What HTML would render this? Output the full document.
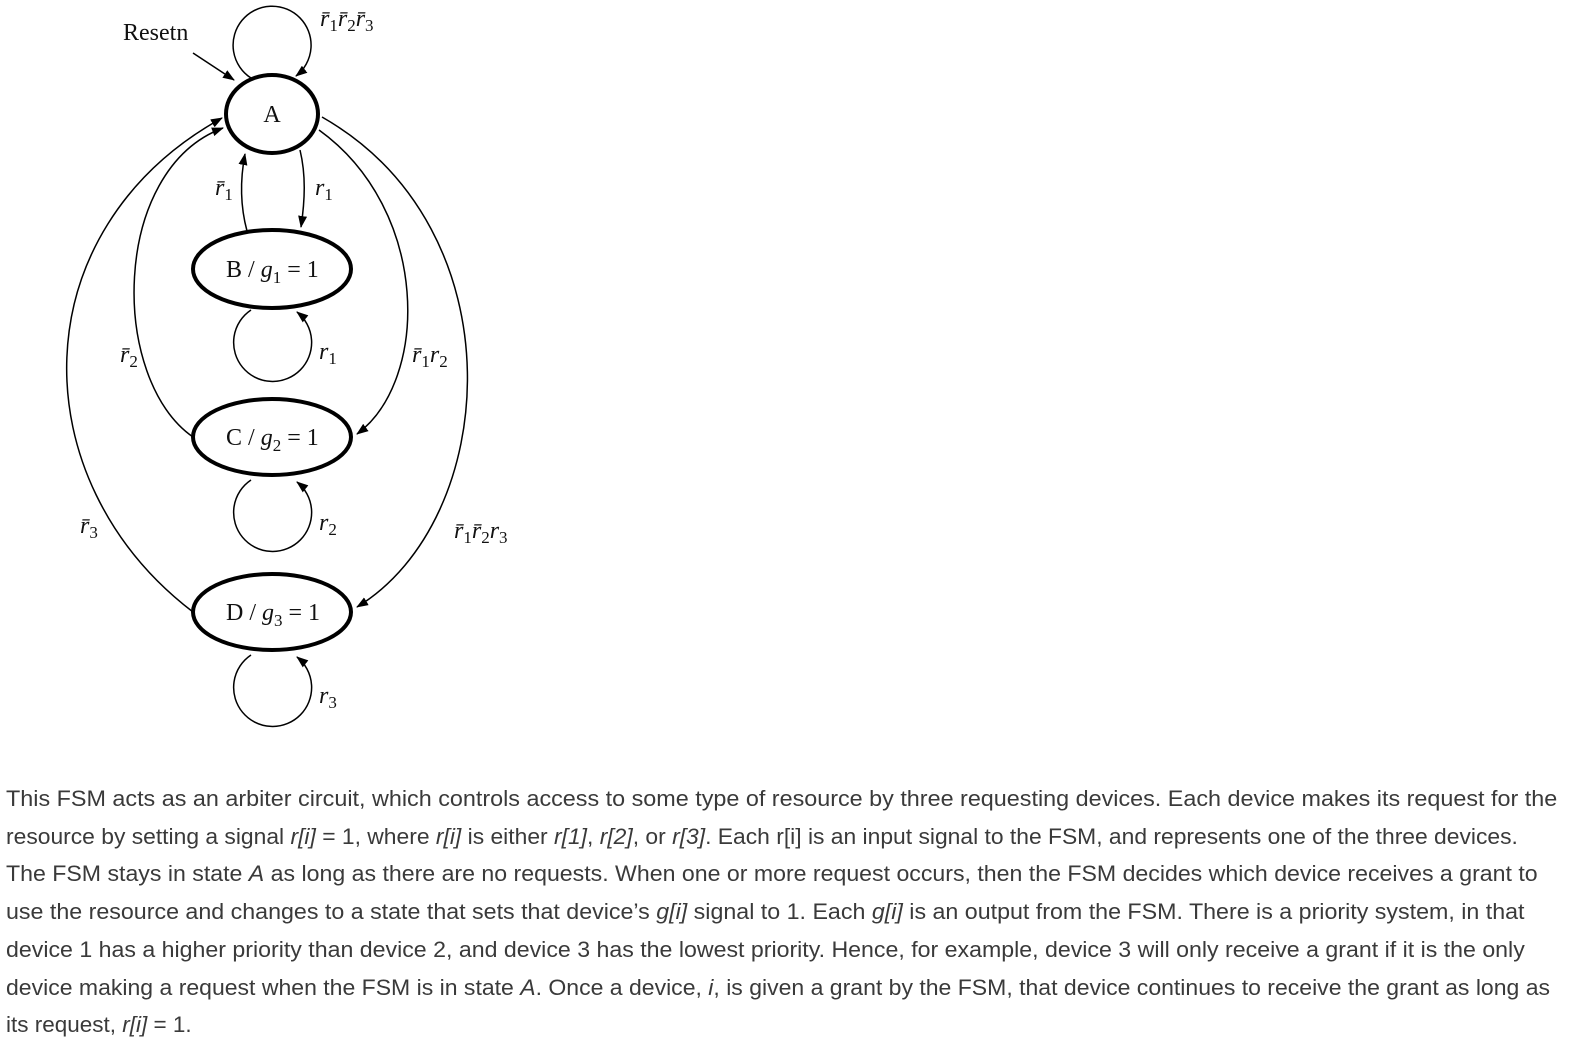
<!DOCTYPE html>
<html><head><meta charset="utf-8">
<style>
html,body{margin:0;padding:0;background:#fff;width:1578px;height:1042px;overflow:hidden;position:relative}
svg{position:absolute;left:0;top:0}
.t{font-family:"Liberation Serif",serif;fill:#111}
.txt{position:absolute;left:6px;font-family:"Liberation Sans",sans-serif;font-size:22px;color:#3a3a3a;white-space:nowrap;transform-origin:0 0;line-height:26px}
</style></head><body>
<svg width="1578" height="760">
<defs><marker id="ah" markerWidth="12" markerHeight="9" refX="11" refY="4.5" orient="auto" markerUnits="userSpaceOnUse"><path d="M0,0 L12,4.5 L0,9 Z" fill="#000"/></marker></defs>
<g fill="none" stroke="#000" stroke-width="1.5">
<path d="M193,53 L234,80" marker-end="url(#ah)"/>
<path d="M251,78 A39,39 0 1 1 296,76" marker-end="url(#ah)"/>
<path d="M247,231 C240,205 240,180 245,154" marker-end="url(#ah)"/>
<path d="M300,150 C306,175 305,200 301,227" marker-end="url(#ah)"/>
<path d="M193,437 C110,380 110,170 223,128" marker-end="url(#ah)"/>
<path d="M193,612 C20,480 20,230 222,118" marker-end="url(#ah)"/>
<path d="M319,130 C430,210 430,380 357,434" marker-end="url(#ah)"/>
<path d="M322,117 C520,230 500,520 357,607" marker-end="url(#ah)"/>
<path d="M251,310 A39,39 0 1 0 297,312" marker-end="url(#ah)"/>
<path d="M251,480 A39,39 0 1 0 297,482" marker-end="url(#ah)"/>
<path d="M251,655 A39,39 0 1 0 297,657" marker-end="url(#ah)"/>
</g>
<g fill="#fff" stroke="#000" stroke-width="4">
<ellipse cx="272" cy="114" rx="46" ry="39"/>
<ellipse cx="272" cy="269" rx="79" ry="39"/>
<ellipse cx="272" cy="437" rx="79" ry="38"/>
<ellipse cx="272" cy="612" rx="79" ry="38"/>
</g>
<g class="t" font-size="24">
<text x="123" y="40">Resetn</text>
<text x="272" y="122" text-anchor="middle">A</text>
<text x="226" y="277">B / <tspan font-style="italic">g</tspan><tspan font-size="17" dy="6">1</tspan><tspan dy="-6"> = 1</tspan></text>
<text x="226" y="445">C / <tspan font-style="italic">g</tspan><tspan font-size="17" dy="6">2</tspan><tspan dy="-6"> = 1</tspan></text>
<text x="226" y="620">D / <tspan font-style="italic">g</tspan><tspan font-size="17" dy="6">3</tspan><tspan dy="-6"> = 1</tspan></text>
</g>
<g class="t" font-size="24" font-style="italic">
<text x="320" y="26">r̄<tspan font-size="17" font-style="normal" dy="5">1</tspan><tspan dy="-5">r̄</tspan><tspan font-size="17" font-style="normal" dy="5">2</tspan><tspan dy="-5">r̄</tspan><tspan font-size="17" font-style="normal" dy="5">3</tspan></text>
<text x="215" y="195">r̄<tspan font-size="17" font-style="normal" dy="5">1</tspan></text>
<text x="315" y="195">r<tspan font-size="17" font-style="normal" dy="5">1</tspan></text>
<text x="319" y="359">r<tspan font-size="17" font-style="normal" dy="5">1</tspan></text>
<text x="120" y="362">r̄<tspan font-size="17" font-style="normal" dy="5">2</tspan></text>
<text x="412" y="362">r̄<tspan font-size="17" font-style="normal" dy="5">1</tspan><tspan dy="-5">r</tspan><tspan font-size="17" font-style="normal" dy="5">2</tspan></text>
<text x="319" y="530">r<tspan font-size="17" font-style="normal" dy="5">2</tspan></text>
<text x="80" y="533">r̄<tspan font-size="17" font-style="normal" dy="5">3</tspan></text>
<text x="454" y="538">r̄<tspan font-size="17" font-style="normal" dy="5">1</tspan><tspan dy="-5">r̄</tspan><tspan font-size="17" font-style="normal" dy="5">2</tspan><tspan dy="-5">r</tspan><tspan font-size="17" font-style="normal" dy="5">3</tspan></text>
<text x="319" y="703">r<tspan font-size="17" font-style="normal" dy="5">3</tspan></text>
</g>
</svg>
<div>
<div class="txt" data-w="1551" style="top:786px">This FSM acts as an arbiter circuit, which controls access to some type of resource by three requesting devices. Each device makes its request for the</div>
<div class="txt" data-w="1512" style="top:824px">resource by setting a signal <i>r[i]</i> = 1, where <i>r[i]</i> is either <i>r[1]</i>, <i>r[2]</i>, or <i>r[3]</i>. Each r[i] is an input signal to the FSM, and represents one of the three devices.</div>
<div class="txt" data-w="1532" style="top:861px">The FSM stays in state <i>A</i> as long as there are no requests. When one or more request occurs, then the FSM decides which device receives a grant to</div>
<div class="txt" data-w="1519" style="top:899px">use the resource and changes to a state that sets that device’s <i>g[i]</i> signal to 1. Each <i>g[i]</i> is an output from the FSM. There is a priority system, in that</div>
<div class="txt" data-w="1519" style="top:937px">device 1 has a higher priority than device 2, and device 3 has the lowest priority. Hence, for example, device 3 will only receive a grant if it is the only</div>
<div class="txt" data-w="1544" style="top:975px">device making a request when the FSM is in state <i>A</i>. Once a device, <i>i</i>, is given a grant by the FSM, that device continues to receive the grant as long as</div>
<div class="txt" data-w="186" style="top:1012px">its request, <i>r[i]</i> = 1.</div>
</div>
<script>
document.querySelectorAll('.txt').forEach(function(d){
  var w=d.scrollWidth, t=+d.getAttribute('data-w');
  if(w>0) d.style.transform='scaleX('+(t/w)+')';
});
</script>
</body></html>
